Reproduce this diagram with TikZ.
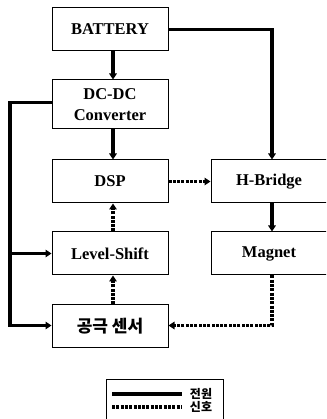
\documentclass[tikz,border=0pt]{standalone}
\usepackage{fontspec}
\setmainfont{Liberation Serif}
\newfontfamily\kofont{Noto Sans CJK KR}
\usetikzlibrary{arrows.meta, positioning}

\begin{document}
\begin{tikzpicture}[
    x=1pt, y=1pt,
    node distance=29pt and 42pt,
    block/.style={rectangle, draw, line width=1pt, minimum width=116pt, minimum height=43pt, align=center, font=\bfseries\fontsize{16.5}{21}\selectfont},
    power/.style={line width=3.2pt},
    signal/.style={line width=3.2pt, dash pattern=on 3pt off 1.3pt},
    tip/.style={-{Triangle[length=6pt, width=7.5pt]}},
]
    \useasboundingbox (0,0) rectangle (326,419);
    \clip (0,0) rectangle (326,419);

    % Left column
    \node[block] (battery) at (110,389.5) {BATTERY};
    \node[block, minimum height=49pt, below=28pt of battery] (dcdc) {DC-DC\\Converter};
    \node[block, below=30pt of dcdc] (dsp) {DSP};
    \node[block, below=28pt of dsp] (levelshift) {Level-Shift};
    \node[block, below=of levelshift, font=\kofont\bfseries\fontsize{17}{20}\selectfont] (sensor) {공극 센서};

    % Right column
    \node[block, right=42pt of dsp] (hbridge) {H-Bridge};
    \node[block, below=28pt of hbridge] (magnet) {Magnet};

    % Power bus
    \coordinate (bus) at (10,0);

    % Power lines
    \draw[power, tip] ([xshift=3pt]battery.south) -- ([xshift=3pt]dcdc.north);
    \draw[power, tip] ([xshift=3pt]dcdc.south) -- ([xshift=3pt]dsp.north);
    \draw[power, tip] (battery.east) -| ([xshift=3pt]hbridge.north);
    \draw[power, tip] ([xshift=3pt]hbridge.south) -- ([xshift=3pt]magnet.north);
    \draw[power, tip] ([yshift=2pt]dcdc.west) -- ([yshift=2pt]dcdc.west -| bus) |- ([yshift=1pt]sensor.west);
    \draw[power, tip] (levelshift.west -| bus) -- (levelshift.west);

    % Signal lines
    \draw[signal, tip] (dsp.east) -- (hbridge.west);
    \draw[signal, tip] ([xshift=3pt]levelshift.north) -- ([xshift=3pt]dsp.south);
    \draw[signal, tip] ([xshift=3pt]sensor.north) -- ([xshift=3pt]levelshift.south);
    \draw[signal, tip] ([xshift=3pt]magnet.south) |- ([yshift=1pt]sensor.east);

    % Legend
    \node[draw, line width=1pt, minimum width=117pt, minimum height=42pt, anchor=north west] (legend) at (106,40) {};
    \coordinate (powerA) at (112,25);
    \coordinate (powerB) at (182,25);
    \coordinate (signalA) at (112,12);
    \coordinate (signalB) at (182,12);
    \draw[power] (powerA) -- (powerB);
    \draw[signal] (signalA) -- (signalB);
    \node[font=\kofont\bfseries\fontsize{12}{13}\selectfont] (lgpower) at (201,25) {전원};
    \node[font=\kofont\bfseries\fontsize{12}{13}\selectfont] (lgsignal) at (201,12) {신호};
\end{tikzpicture}
\end{document}
